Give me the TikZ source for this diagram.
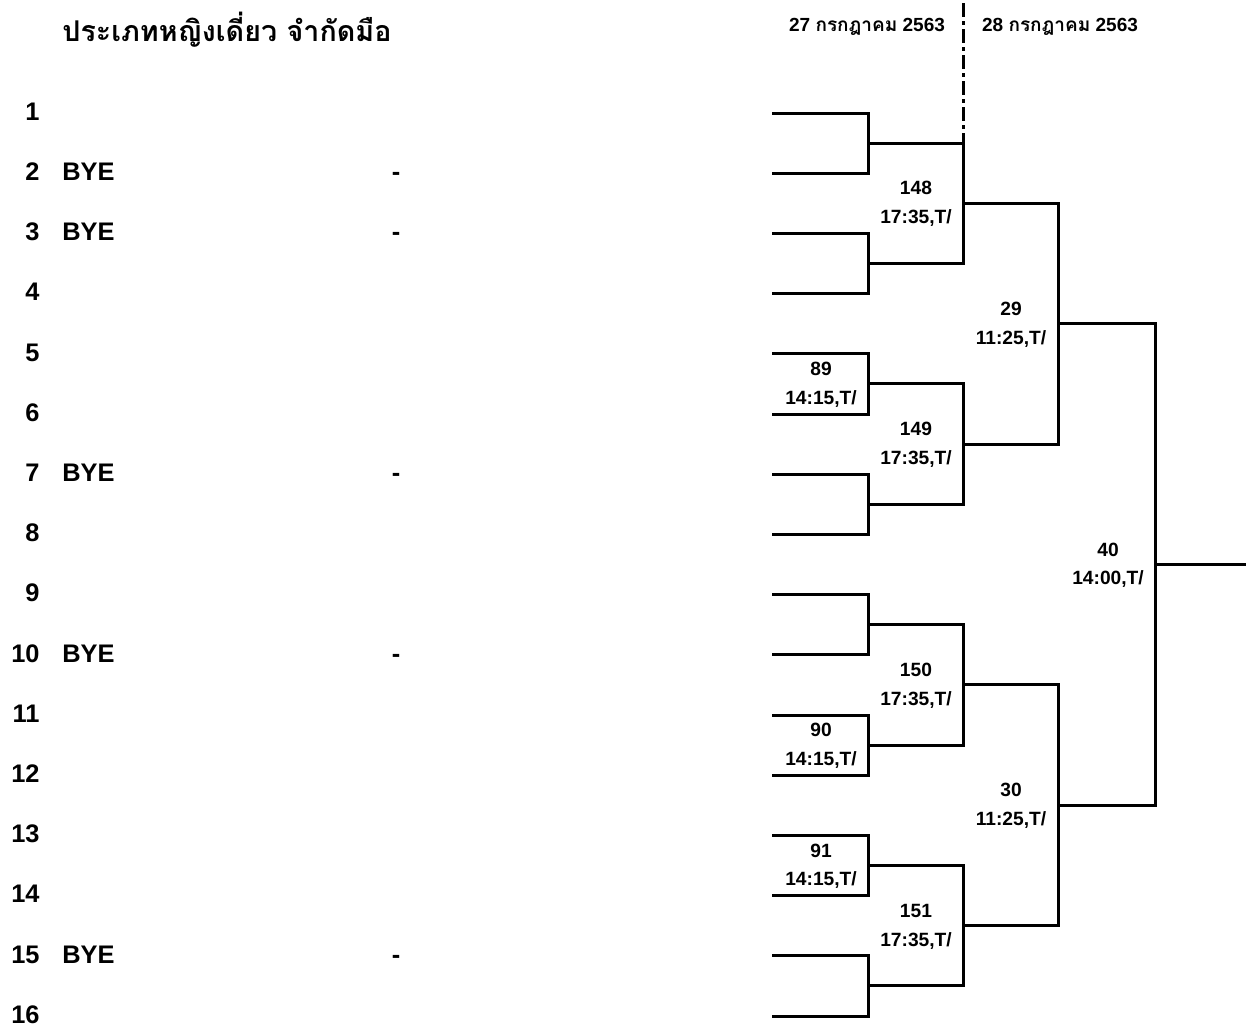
\documentclass[tikz,border=0pt]{standalone}
\usepackage{fontspec}
\setmainfont{Liberation Sans}
\newfontfamily\thaifont[Script=Thai]{Loma}
\usetikzlibrary{calc}

\begin{document}
\begin{tikzpicture}[x=0.5pt,y=-0.5pt,
			bracket/.style={line width=1.5pt,line cap=rect},
			divider/.style={line width=1.5pt,dash pattern=on 7pt off 2pt on 2pt off 2pt},
			entry node/.style={font=\bfseries\fontsize{12.7}{12.7}\selectfont,inner sep=0pt,text height=0.72em,text depth=0pt},
			match node/.style={font=\bfseries\fontsize{9.6}{9.6}\selectfont,inner sep=0pt},
			day node/.style={font=\bfseries\fontsize{9.5}{9.5}\selectfont,inner sep=0pt},
			title node/.style={font=\bfseries\fontsize{14.3}{14.3}\selectfont\thaifont,inner sep=0pt,anchor=west}
			]
			
			\def \ytop {113};
			\def \dy {60.2};
			
			\useasboundingbox (0,0) rectangle (1246,1029);
			
			\node[title node] (title) at (62,30) {ประเภทหญิงเดี่ยว จำกัดมือ};
			\node[day node] (day27) at (867,27) {27 {\thaifont กรกฎาคม} 2563};
			\node[day node] (day28) at (1060,27) {28 {\thaifont กรกฎาคม} 2563};
			
			\foreach \i in {1,...,16} {
				\pgfmathsetmacro\yy{\ytop+\dy*(\i-1)}
				\node[entry node,anchor=east] (no\i) at (40,\yy) {\i};
				\coordinate (l\i) at (773,\yy);
			}
			\foreach \i in {2,3,7,10,15} {
				\node[entry node,anchor=west] (bye\i) at (62,{\ytop+\dy*(\i-1)}) {BYE};
				\node[entry node] (dash\i) at (396,{\ytop+\dy*(\i-1)}) {-};
			}
			
			\foreach \k in {1,...,8} {
				\coordinate (a\k) at (868,{\ytop+\dy/2+2*\dy*(\k-1)});
			}
			\foreach \k in {1,...,4} {
				\coordinate (b\k) at (963,{\ytop+1.5*\dy+4*\dy*(\k-1)});
			}
			\foreach \k in {1,2} {
				\coordinate (c\k) at (1058,{\ytop+3.5*\dy+8*\dy*(\k-1)});
			}
			\coordinate (d1) at (1155,{\ytop+7.5*\dy});
			\coordinate (fin) at (1246,{\ytop+7.5*\dy});
			\coordinate (divtop) at (963,3);
			
			\foreach \k in {1,...,8} {
				\pgfmathtruncatemacro\i{2*\k-1}
				\pgfmathtruncatemacro\j{2*\k}
				\draw[bracket] (l\i) -| (a\k) |- (l\j);
			}
			\foreach \k in {1,...,4} {
				\pgfmathtruncatemacro\i{2*\k-1}
				\pgfmathtruncatemacro\j{2*\k}
				\draw[bracket] (a\i) -| (b\k) |- (a\j);
			}
			\draw[bracket] (b1) -| (c1) |- (b2);
			\draw[bracket] (b3) -| (c2) |- (b4);
			\draw[bracket] (c1) -| (d1) |- (c2);
			\draw[bracket] (d1) -- (fin);
			\draw[divider] (divtop) -- (a1 -| b1);
			
			\foreach \c/\m/\t in {a3/89/14:15, a6/90/14:15, a7/91/14:15,
				b1/148/17:35, b2/149/17:35, b3/150/17:35, b4/151/17:35,
				c1/29/11:25, c2/30/11:25, d1/40/14:00} {
				\node[match node] (m\m) at ($(\c)+(-47,-15)$) {\m};
				\node[match node] (t\m) at ($(\c)+(-47,15)$) {\t,T/};
			}
			\end{tikzpicture}
\end{document}
